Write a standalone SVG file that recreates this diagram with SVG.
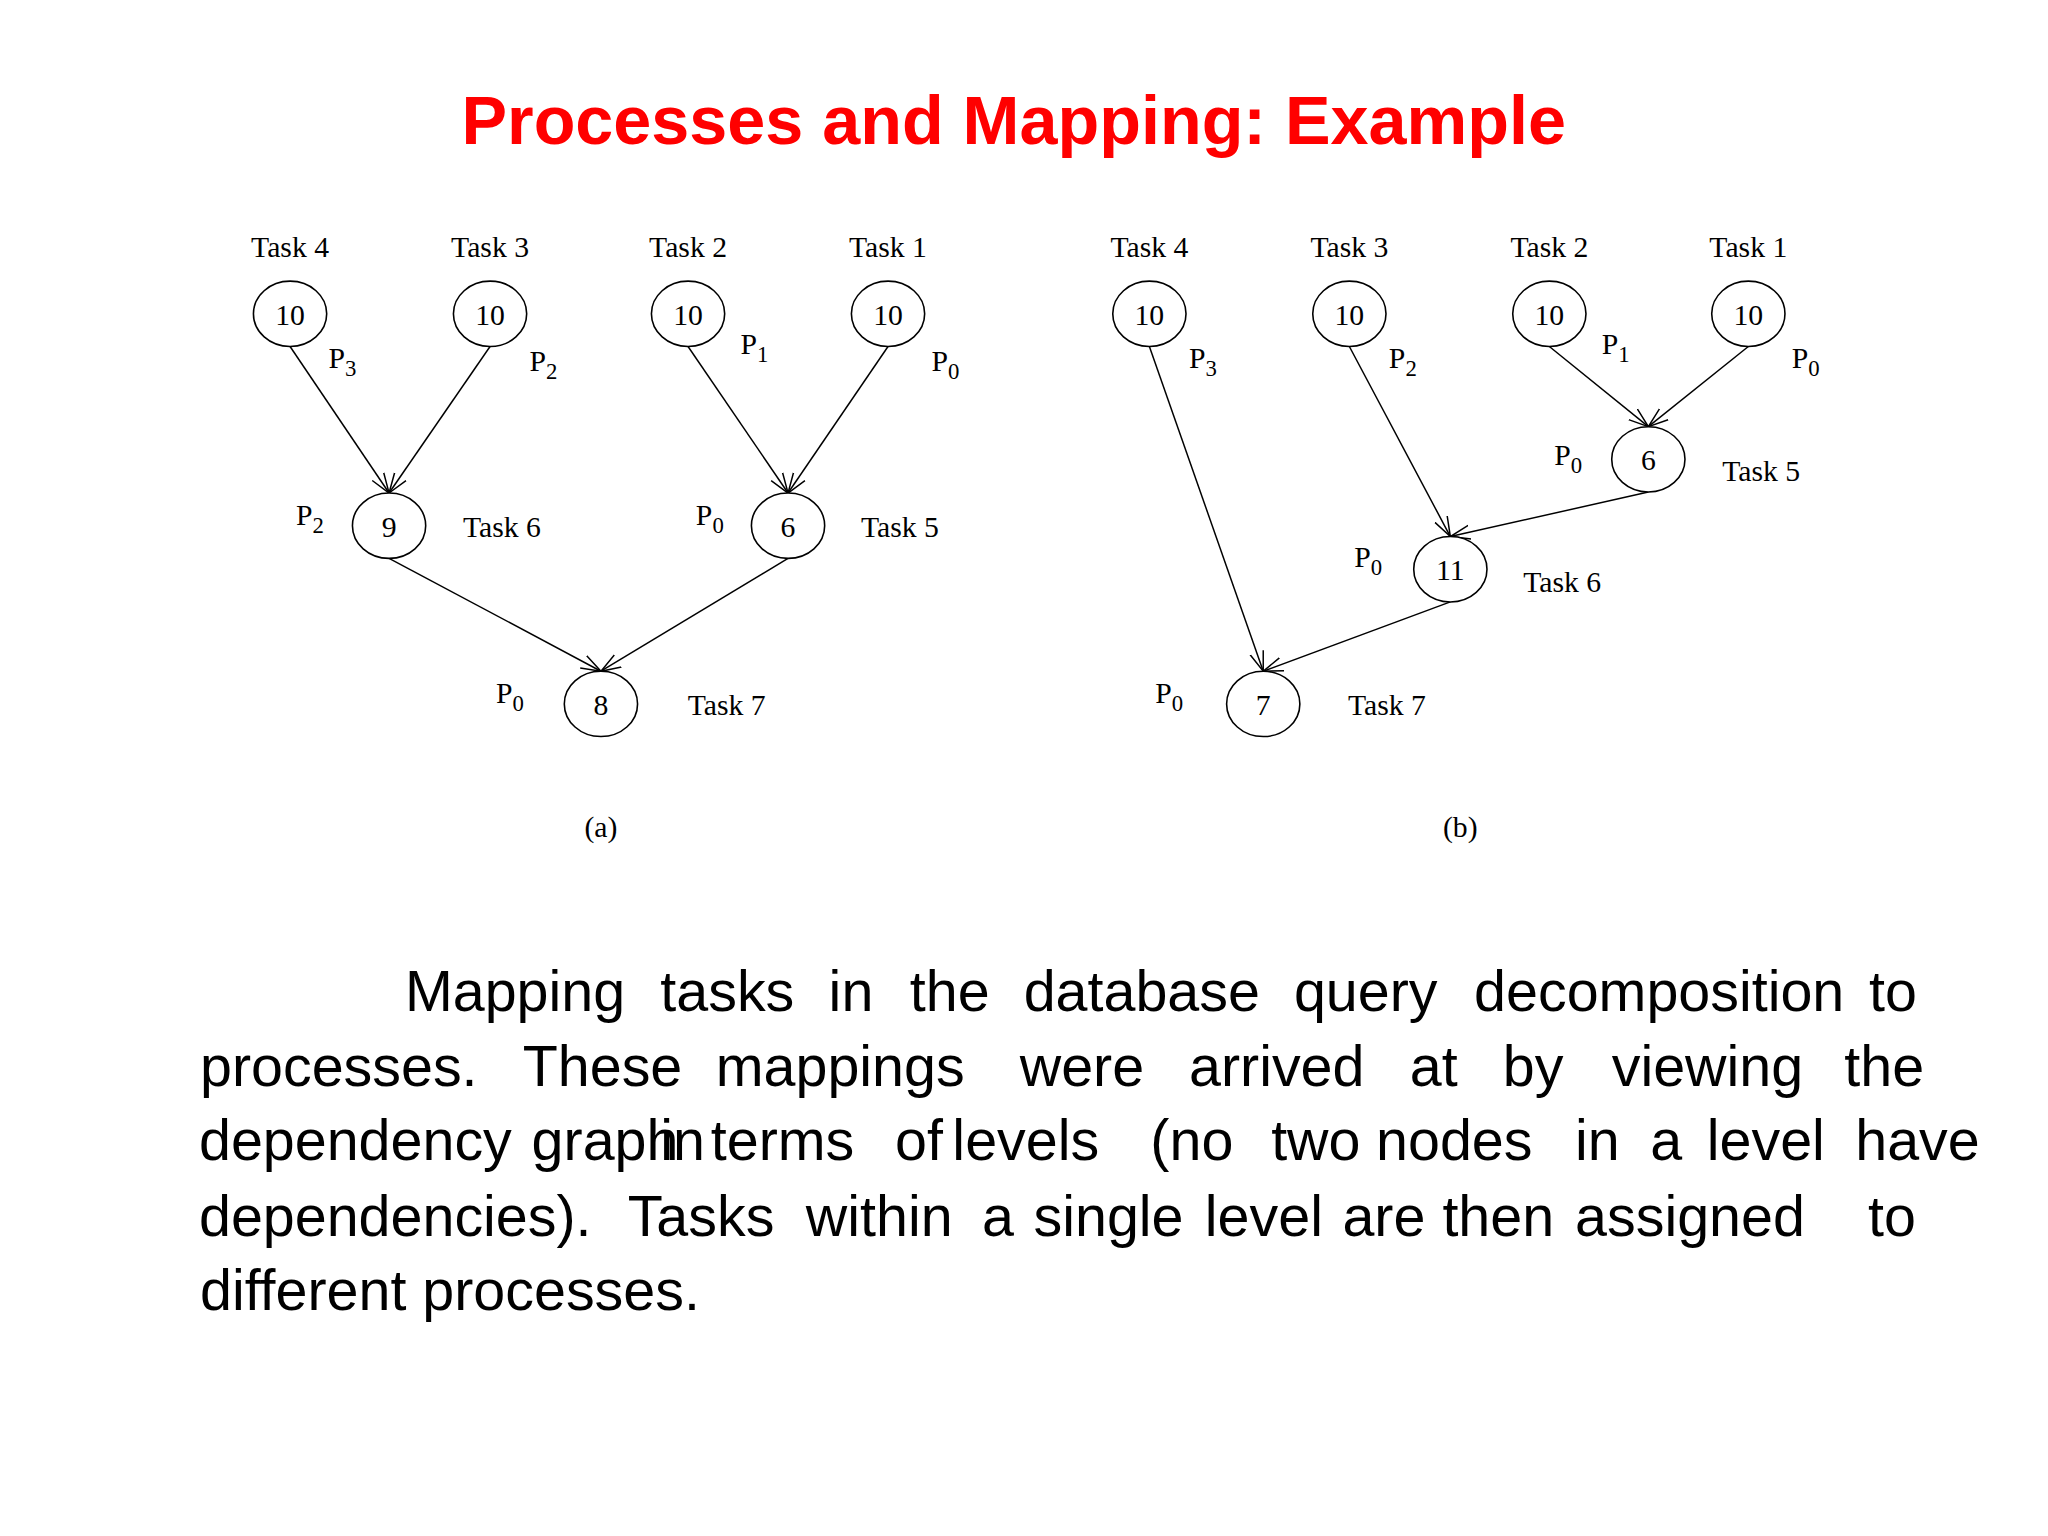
<svg xmlns="http://www.w3.org/2000/svg" width="2048" height="1536" viewBox="0 0 2048 1536">
<style>
.t{font-family:"Liberation Serif",serif;font-size:30px;fill:#000;text-anchor:middle}
.s{font-size:23px}
ellipse{fill:#fff;stroke:#000;stroke-width:1.6}
.e line{stroke:#000;stroke-width:1.5;marker-end:url(#a)}
.p{font-family:"Liberation Sans",Arial,sans-serif;font-size:58px;fill:#000}
</style>
<defs><marker id="a" viewBox="0 0 20 20" refX="20" refY="10" markerWidth="20" markerHeight="20" markerUnits="userSpaceOnUse" orient="auto"><path d="M0,3 L20,10 L0,17" fill="none" stroke="#000" stroke-width="1.5"/></marker></defs>
<rect width="2048" height="1536" fill="#fff"/>
<g transform="scale(0.99)">
<text x="1024" y="145" text-anchor="middle" font-family="Liberation Sans,Arial,sans-serif" font-weight="bold" font-size="69" fill="#f00">Processes and Mapping: Example</text>
<g class="e" id="connectors">
<line x1="293" y1="350" x2="393" y2="498"/><line x1="495" y1="350" x2="393" y2="498"/>
<line x1="695" y1="350" x2="796" y2="498"/><line x1="897" y1="350" x2="796" y2="498"/>
<line x1="393" y1="564" x2="607" y2="678"/><line x1="796" y1="564" x2="607" y2="678"/>
<line x1="1161" y1="350" x2="1276" y2="678"/><line x1="1363" y1="350" x2="1465" y2="542"/>
<line x1="1565" y1="350" x2="1665" y2="431"/><line x1="1766" y1="350" x2="1665" y2="431"/>
<line x1="1665" y1="497" x2="1465" y2="542"/><line x1="1465" y1="608" x2="1276" y2="678"/>
</g>
<g id="a4"><text class="t" x="293" y="260">Task 4</text><ellipse cx="293" cy="317" rx="37" ry="33"/><text class="t" x="293" y="328">10</text><text class="t" x="346" y="372">P<tspan class="s" dy="8">3</tspan></text></g>
<g id="a3"><text class="t" x="495" y="260">Task 3</text><ellipse cx="495" cy="317" rx="37" ry="33"/><text class="t" x="495" y="328">10</text><text class="t" x="549" y="375">P<tspan class="s" dy="8">2</tspan></text></g>
<g id="a2"><text class="t" x="695" y="260">Task 2</text><ellipse cx="695" cy="317" rx="37" ry="33"/><text class="t" x="695" y="328">10</text><text class="t" x="762" y="358">P<tspan class="s" dy="8">1</tspan></text></g>
<g id="a1"><text class="t" x="897" y="260">Task 1</text><ellipse cx="897" cy="317" rx="37" ry="33"/><text class="t" x="897" y="328">10</text><text class="t" x="955" y="375">P<tspan class="s" dy="8">0</tspan></text></g>
<g id="a6"><ellipse cx="393" cy="531" rx="37" ry="33"/><text class="t" x="393" y="542">9</text><text class="t" x="313" y="530">P<tspan class="s" dy="8">2</tspan></text><text class="t" x="507" y="542">Task 6</text></g>
<g id="a5"><ellipse cx="796" cy="531" rx="37" ry="33"/><text class="t" x="796" y="542">6</text><text class="t" x="717" y="530">P<tspan class="s" dy="8">0</tspan></text><text class="t" x="909" y="542">Task 5</text></g>
<g id="a7"><ellipse cx="607" cy="711" rx="37" ry="33"/><text class="t" x="607" y="722">8</text><text class="t" x="515" y="710">P<tspan class="s" dy="8">0</tspan></text><text class="t" x="734" y="722">Task 7</text></g>
<text class="t" x="607" y="845">(a)</text>
<g id="b4"><text class="t" x="1161" y="260">Task 4</text><ellipse cx="1161" cy="317" rx="37" ry="33"/><text class="t" x="1161" y="328">10</text><text class="t" x="1215" y="372">P<tspan class="s" dy="8">3</tspan></text></g>
<g id="b3"><text class="t" x="1363" y="260">Task 3</text><ellipse cx="1363" cy="317" rx="37" ry="33"/><text class="t" x="1363" y="328">10</text><text class="t" x="1417" y="372">P<tspan class="s" dy="8">2</tspan></text></g>
<g id="b2"><text class="t" x="1565" y="260">Task 2</text><ellipse cx="1565" cy="317" rx="37" ry="33"/><text class="t" x="1565" y="328">10</text><text class="t" x="1632" y="358">P<tspan class="s" dy="8">1</tspan></text></g>
<g id="b1"><text class="t" x="1766" y="260">Task 1</text><ellipse cx="1766" cy="317" rx="37" ry="33"/><text class="t" x="1766" y="328">10</text><text class="t" x="1824" y="372">P<tspan class="s" dy="8">0</tspan></text></g>
<g id="b5"><ellipse cx="1665" cy="464" rx="37" ry="33"/><text class="t" x="1665" y="475">6</text><text class="t" x="1584" y="470">P<tspan class="s" dy="8">0</tspan></text><text class="t" x="1779" y="486">Task 5</text></g>
<g id="b6"><ellipse cx="1465" cy="575" rx="37" ry="33"/><text class="t" x="1465" y="586">11</text><text class="t" x="1382" y="573">P<tspan class="s" dy="8">0</tspan></text><text class="t" x="1578" y="598">Task 6</text></g>
<g id="b7"><ellipse cx="1276" cy="711" rx="37" ry="33"/><text class="t" x="1276" y="722">7</text><text class="t" x="1181" y="710">P<tspan class="s" dy="8">0</tspan></text><text class="t" x="1401" y="722">Task 7</text></g>
<text class="t" x="1475" y="845">(b)</text>
<g id="para">
<text class="p" y="1021"><tspan x="409">Mapping</tspan><tspan x="667">tasks</tspan><tspan x="837">in</tspan><tspan x="919">the</tspan><tspan x="1034">database</tspan><tspan x="1307">query</tspan><tspan x="1489">decomposition</tspan><tspan x="1888">to</tspan></text>
<text class="p" y="1097"><tspan x="202">processes.</tspan><tspan x="528">These</tspan><tspan x="723">mappings</tspan><tspan x="1030">were</tspan><tspan x="1201">arrived</tspan><tspan x="1424">at</tspan><tspan x="1518">by</tspan><tspan x="1628">viewing</tspan><tspan x="1863">the</tspan></text>
<text class="p" y="1172"><tspan x="201">dependency</tspan><tspan x="537">graph</tspan><tspan x="667">in</tspan><tspan x="718">terms</tspan><tspan x="904">of</tspan><tspan x="962">levels</tspan><tspan x="1162">(no</tspan><tspan x="1284">two</tspan><tspan x="1390">nodes</tspan><tspan x="1591">in</tspan><tspan x="1667">a</tspan><tspan x="1724">level</tspan><tspan x="1874">have</tspan></text>
<text class="p" y="1248"><tspan x="201">dependencies).</tspan><tspan x="634">Tasks</tspan><tspan x="814">within</tspan><tspan x="992">a</tspan><tspan x="1044">single</tspan><tspan x="1217">level</tspan><tspan x="1356">are</tspan><tspan x="1457">then</tspan><tspan x="1591">assigned</tspan><tspan x="1887">to</tspan></text>
<text class="p" x="202" y="1323">different processes.</text>
</g>
</g>
</svg>
